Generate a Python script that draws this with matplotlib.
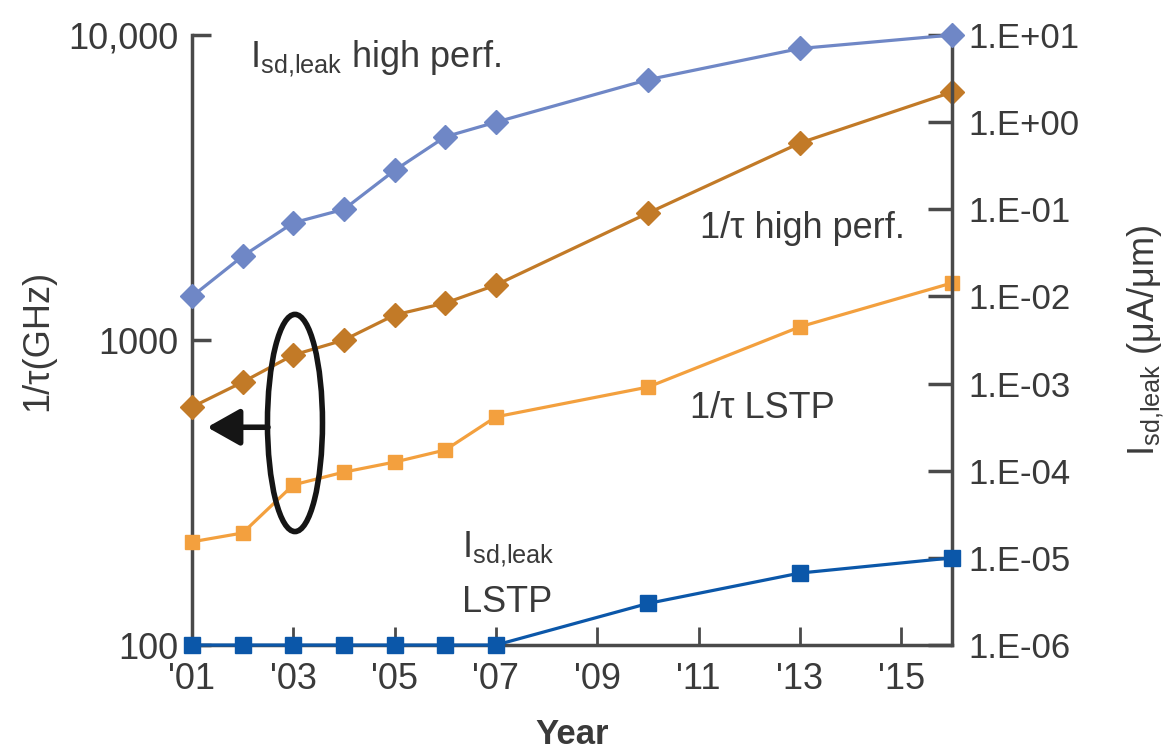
import matplotlib
matplotlib.use('Agg')
import matplotlib.pyplot as plt
from matplotlib.patches import Ellipse

plt.rcParams['font.family'] = ['Liberation Sans Narrow', 'Liberation Sans', 'DejaVu Sans']
plt.rcParams['mathtext.fontset'] = 'custom'
plt.rcParams['mathtext.rm'] = 'Liberation Sans'

# data
years = [2001, 2002, 2003, 2004, 2005, 2006, 2007, 2010, 2013, 2016]
tau_hp = [603, 728, 893, 1000, 1208, 1322, 1515, 2607, 4426, 6500]
tau_lstp = [218, 233, 335, 369, 398, 436, 560, 701, 1105, 1538]
leak_hp = [1.0e-2, 2.9e-2, 7.0e-2, 1.0e-1, 2.8e-1, 6.8e-1, 1.0, 3.07, 7.0, 10.0]
leak_lstp = [1e-6, 1e-6, 1e-6, 1e-6, 1e-6, 1e-6, 1e-6, 3.0e-6, 6.7e-6, 1.0e-5]

xticks = [2001, 2003, 2005, 2007, 2009, 2011, 2013, 2015]
xticklabels = ["'01", "'03", "'05", "'07", "'09", "'11", "'13", "'15"]
lticks = [100, 1000, 10000]
lticklabels = ['100', '1000', '10,000']
rticks = [1e-6, 1e-5, 1e-4, 1e-3, 1e-2, 1e-1, 1e0, 1e1]
rticklabels = ['1.E-06', '1.E-05', '1.E-04', '1.E-03', '1.E-02', '1.E-01', '1.E+00', '1.E+01']

c_blue_l = '#6f87c6'
c_brown = '#c27a27'
c_orange = '#f3a03e'
c_blue_d = '#0b57a9'
c_axis = '#4a4a4a'
c_text = '#3a3a3a'

fig = plt.figure(figsize=(11.75, 7.51), dpi=100)
ax = fig.add_axes([0.1634, 0.1411, 0.6468, 0.8123])
ax2 = ax.twinx()

ax.plot(years, tau_hp, '-D', color=c_brown, lw=2.3, ms=12, clip_on=False, zorder=3)
ax.plot(years, tau_lstp, '-s', color=c_orange, lw=2.3, ms=10, clip_on=False, zorder=3)
ax2.plot(years, leak_hp, '-D', color=c_blue_l, lw=2.3, ms=12, clip_on=False, zorder=3)
ax2.plot(years, leak_lstp, '-s', color=c_blue_d, lw=2.3, ms=12, clip_on=False, zorder=3)

ax.set_yscale('log')
ax2.set_yscale('log')
ax.set_xlim(2001, 2016)
ax.set_ylim(100, 10000)
ax2.set_ylim(1e-6, 1e1)

ax.set_xticks(xticks)
ax.set_xticklabels(xticklabels)
ax.set_yticks(lticks)
ax.set_yticklabels(lticklabels)
ax.yaxis.set_minor_locator(matplotlib.ticker.NullLocator())
ax2.set_yticks(rticks)
ax2.set_yticklabels(rticklabels)
ax2.yaxis.set_minor_locator(matplotlib.ticker.NullLocator())

for s in ['top', 'right']:
    ax.spines[s].set_visible(False)
for s in ['top', 'left', 'bottom']:
    ax2.spines[s].set_visible(False)
for sp in [ax.spines['left'], ax.spines['bottom'], ax2.spines['right']]:
    sp.set_color(c_axis)
    sp.set_linewidth(2.5)

ax.tick_params(axis='y', direction='in', length=14, width=2.5, color=c_axis,
               labelsize=26, labelcolor=c_text, pad=10)
ax.tick_params(axis='x', direction='in', length=13, width=2, color=c_axis,
               labelsize=26, labelcolor=c_text, pad=12)
ax2.tick_params(axis='y', direction='in', length=17, width=2.5, color=c_axis,
                labelsize=25, labelcolor=c_text, pad=12)

ax.set_xlabel('Year', fontsize=25, fontweight='bold', color=c_text)
ax.xaxis.set_label_coords(0.5, -0.12)
ax.set_ylabel('1/τ(GHz)', fontsize=26, color=c_text)
ax.yaxis.set_label_coords(-0.18, 0.5)
ax2.set_ylabel(r'I$_{\rm sd{,}leak}$ (μA/μm)', fontsize=26, color=c_text, rotation=90)
ax2.yaxis.set_label_coords(1.228, 0.5)

# annotations
ax.text(0.076, 0.946, r'I$_{\rm sd{,}leak}$ high perf.', transform=ax.transAxes,
        fontsize=26, color=c_text, va='baseline')
ax.text(0.668, 0.667, '1/τ high perf.', transform=ax.transAxes,
        fontsize=26, color=c_text, va='baseline')
ax.text(0.655, 0.372, '1/τ LSTP', transform=ax.transAxes,
        fontsize=26, color=c_text, va='baseline')
ax.text(0.355, 0.144, r'I$_{\rm sd{,}leak}$', transform=ax.transAxes,
        fontsize=26, color=c_text, va='baseline')
ax.text(0.355, 0.054, 'LSTP', transform=ax.transAxes,
        fontsize=26, color=c_text, va='baseline')

ell = Ellipse((0.1355, 0.364), 0.0724, 0.356, transform=ax.transAxes,
              fill=False, lw=4, color='#151515', zorder=4)
ax.add_patch(ell)
ax.annotate('', xy=(0.02, 0.357), xytext=(0.1, 0.357),
            xycoords='axes fraction', textcoords='axes fraction',
            arrowprops=dict(arrowstyle='-|>,head_length=0.8,head_width=0.45',
                            lw=4, color='#151515', shrinkA=0, shrinkB=0,
                            mutation_scale=25), zorder=4)

fig.savefig('out.png', dpi=100)
